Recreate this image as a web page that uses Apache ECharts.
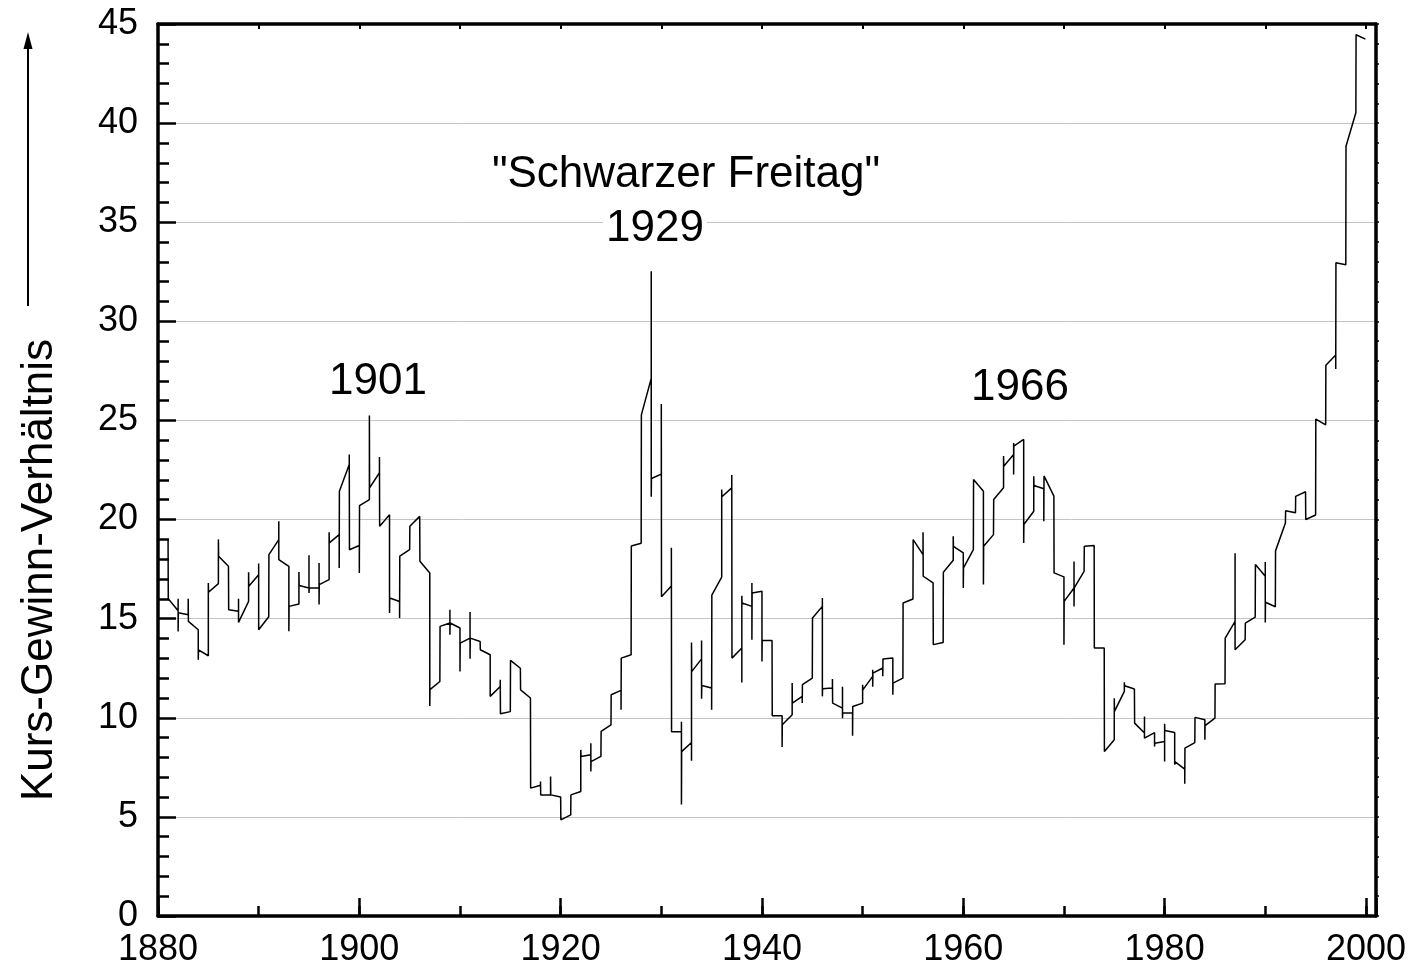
<!DOCTYPE html>
<html>
<head>
<meta charset="utf-8">
<script src="https://cdn.jsdelivr.net/npm/echarts@6/dist/echarts.min.js"></script>
<style>
  html, body { margin: 0; padding: 0; background: #fff; }
  #main { width: 1411px; height: 969px; }
</style>
</head>
<body>
<div id="main"></div>
<script>
const mainEl = document.getElementById("main");
let chart = echarts.init(mainEl);

// Kurs-Gewinn-Verhältnis (Jahr, Wert)
const years = [
  1881.0, 1881.02, 1882.0, 1882.0, 1882.0, 1882.02, 1883.0, 1883.0, 1883.02, 1884.0, 1884.0, 1884.02,
  1885.0, 1885.0, 1885.02, 1886.0, 1886.0, 1886.02, 1887.0, 1887.02, 1888.0, 1888.0, 1888.0, 1888.02,
  1889.0, 1889.0, 1889.02, 1890.0, 1890.0, 1890.0, 1890.02, 1891.0, 1891.02, 1892.0, 1892.0, 1892.0, 1892.02,
  1893.0, 1893.0, 1893.02, 1894.0, 1894.0, 1894.02, 1895.0, 1895.0, 1895.0, 1895.02, 1896.0, 1896.0, 1896.0, 1896.02,
  1897.0, 1897.0, 1897.02, 1898.0, 1898.0, 1898.02, 1899.0, 1899.0, 1899.02, 1900.0, 1900.0, 1900.02,
  1901.0, 1901.0, 1901.02, 1902.0, 1902.0, 1902.02, 1903.0, 1903.0, 1903.02, 1904.0, 1904.0, 1904.02,
  1905.0, 1905.02, 1906.0, 1906.02, 1907.0, 1907.0, 1907.02, 1908.0, 1908.02, 1909.0, 1909.0, 1909.0, 1909.02,
  1910.0, 1910.0, 1910.02, 1911.0, 1911.0, 1911.0, 1911.02, 1912.0, 1912.02, 1913.0, 1913.0, 1913.02,
  1914.0, 1914.0, 1914.02, 1915.0, 1915.02, 1916.0, 1916.02, 1917.0, 1917.02, 1918.0, 1918.0, 1918.02,
  1919.0, 1919.0, 1919.02, 1920.0, 1920.02, 1921.0, 1921.02, 1922.0, 1922.0, 1922.02, 1923.0, 1923.0, 1923.0, 1923.02,
  1924.0, 1924.02, 1925.0, 1925.02, 1926.0, 1926.0, 1926.02, 1927.0, 1927.02, 1928.0, 1928.02,
  1929.0, 1929.0, 1929.0, 1929.02, 1930.0, 1930.0, 1930.02, 1931.0, 1931.0, 1931.02, 1932.0, 1932.0, 1932.0, 1932.02,
  1933.0, 1933.0, 1933.0, 1933.02, 1934.0, 1934.0, 1934.0, 1934.02, 1935.0, 1935.0, 1935.02, 1936.0, 1936.0, 1936.02,
  1937.0, 1937.0, 1937.02, 1938.0, 1938.0, 1938.0, 1938.02, 1939.0, 1939.0, 1939.0, 1939.02, 1940.0, 1940.0, 1940.02,
  1941.0, 1941.02, 1942.0, 1942.0, 1942.02, 1943.0, 1943.0, 1943.02, 1944.0, 1944.0, 1944.02, 1945.0, 1945.02,
  1946.0, 1946.0, 1946.0, 1946.02, 1947.0, 1947.0, 1947.02, 1948.0, 1948.0, 1948.0, 1948.02, 1949.0, 1949.0, 1949.02,
  1950.0, 1950.0, 1950.02, 1951.0, 1951.0, 1951.0, 1951.02, 1952.0, 1952.0, 1952.02, 1953.0, 1953.0, 1953.02,
  1954.0, 1954.02, 1955.0, 1955.02, 1956.0, 1956.0, 1956.02, 1957.0, 1957.02, 1958.0, 1958.02, 1959.0, 1959.0, 1959.02,
  1960.0, 1960.0, 1960.02, 1961.0, 1961.02, 1962.0, 1962.0, 1962.02, 1963.0, 1963.02, 1964.0, 1964.0, 1964.02,
  1965.0, 1965.0, 1965.0, 1965.02, 1966.0, 1966.0, 1966.02, 1967.0, 1967.0, 1967.02, 1968.0, 1968.0, 1968.02,
  1969.0, 1969.02, 1970.0, 1970.0, 1970.02, 1971.0, 1971.0, 1971.0, 1971.02, 1972.0, 1972.02, 1973.0, 1973.02,
  1974.0, 1974.02, 1975.0, 1975.0, 1975.02, 1976.0, 1976.0, 1976.02, 1977.0, 1977.02, 1978.0, 1978.0, 1978.0, 1978.02,
  1979.0, 1979.0, 1979.02, 1980.0, 1980.0, 1980.0, 1980.02, 1981.0, 1981.0, 1981.02, 1982.0, 1982.0, 1982.02,
  1983.0, 1983.02, 1984.0, 1984.0, 1984.02, 1985.0, 1985.02, 1986.0, 1986.02, 1987.0, 1987.0, 1987.0, 1987.02,
  1988.0, 1988.02, 1989.0, 1989.02, 1990.0, 1990.0, 1990.0, 1990.02, 1991.0, 1991.02, 1992.0, 1992.02,
  1993.0, 1993.02, 1994.0, 1994.02, 1995.0, 1995.02, 1996.0, 1996.02, 1997.0, 1997.0, 1997.02,
  1998.0, 1998.02, 1999.0, 1999.02, 1999.95
];
const kgv = [
  19.0, 16.0, 15.4, 16.0, 14.35, 15.3, 15.2, 16.0, 14.86, 14.44, 12.93, 13.43,
  13.13, 16.8, 16.33, 16.77, 19.0, 18.15, 17.64, 15.45, 15.37, 16.0, 14.81, 14.9,
  15.87, 17.34, 16.63, 17.22, 17.78, 14.44, 14.47, 15.1, 18.23, 18.99, 19.92, 17.98, 18.0,
  17.64, 14.36, 15.62, 15.74, 17.35, 16.67, 16.55, 18.2, 16.3, 16.55, 16.55, 17.81, 15.71, 16.72,
  16.97, 19.36, 18.82, 19.24, 17.56, 21.43, 22.78, 23.28, 18.48, 18.69, 17.31, 20.7,
  21.01, 25.25, 21.6, 22.36, 23.16, 19.66, 20.24, 15.29, 16.04, 15.87, 15.03, 18.15,
  18.48, 19.66, 20.16, 17.9, 17.3, 10.6, 11.42, 11.83, 14.61, 14.78, 15.45, 14.19, 14.78,
  14.53, 12.34, 13.77, 14.02, 15.34, 12.98, 14.02, 13.85, 13.43, 13.18, 11.08, 11.16,
  11.58, 11.92, 10.2, 10.31, 12.9, 12.5, 11.41, 11.0, 6.45, 6.6, 6.78, 6.11,
  6.11, 7.04, 6.11, 6.0, 4.85, 5.1, 6.11, 6.28, 8.38, 8.05, 8.13, 8.72, 7.29, 7.79,
  8.05, 9.31, 9.64, 11.16, 11.38, 10.4, 13.01, 13.18, 18.67, 18.8, 25.28,
  27.12, 32.53, 21.15, 22.07, 22.29, 25.83, 16.1, 16.65, 18.58, 9.3, 9.3, 9.8, 5.63, 8.29,
  8.75, 7.83, 13.8, 12.33, 12.97, 13.9, 10.96, 11.63, 11.5, 10.4, 16.19, 17.1, 21.51, 21.15,
  21.6, 22.25, 13.01, 13.52, 11.78, 16.16, 15.79, 15.62, 16.8, 13.94, 16.3, 16.38, 12.84, 13.9,
  13.9, 10.1, 10.1, 8.52, 9.65, 10.15, 11.75, 10.74, 11.08, 10.74, 11.67, 12.0, 15.03,
  15.62, 16.04, 11.08, 11.46, 11.5, 11.95, 10.74, 10.49, 11.57, 9.98, 10.24, 10.24, 9.09, 10.57,
  10.74, 11.67, 11.41, 12.09, 12.42, 11.57, 12.25, 12.51, 12.09, 12.97, 13.01, 11.16, 11.75,
  12.0, 15.79, 15.99, 18.99, 18.23, 19.36, 17.14, 16.8, 13.69, 13.8, 17.34, 17.95, 19.16, 18.65,
  18.32, 16.55, 17.56, 18.48, 22.02, 21.43, 16.72, 18.65, 19.24, 21.01, 21.6, 23.2, 22.69,
  23.28, 23.86, 22.27, 23.7, 24.04, 18.82, 19.75, 20.42, 22.19, 21.72, 21.55, 19.92, 22.2,
  21.18, 17.31, 17.11, 13.69, 15.87, 16.55, 17.89, 15.62, 16.55, 17.39, 18.65, 18.69, 13.52,
  13.52, 8.3, 8.89, 10.99, 10.32, 11.33, 11.79, 11.62, 11.45, 9.73, 9.23, 10.07, 8.97, 9.05,
  9.25, 8.55, 8.72, 8.8, 7.79, 9.7, 9.36, 9.26, 7.63, 7.79, 7.41, 6.67, 8.47,
  8.75, 10.02, 9.9, 8.89, 9.6, 9.98, 11.7, 11.72, 14.02, 14.86, 18.3, 13.43, 13.43,
  13.94, 14.78, 15.08, 17.73, 17.14, 17.86, 14.81, 15.83, 15.6, 18.42, 19.82, 20.44,
  20.34, 21.17, 21.4, 20.0, 20.23, 25.07, 24.78, 27.78, 28.3, 27.6, 32.96,
  32.85, 38.83, 40.52, 44.46, 44.24
];

const yTicks = [0, 5, 10, 15, 20, 25, 30, 35, 40, 45];
const xTicks = [1880, 1900, 1920, 1940, 1960, 1980, 2000];

const notes = [
  { text: '1901', x: 378, y: 382 },
  { text: '"Schwarzer Freitag"', x: 686, y: 175 },
  { text: '1929', x: 655, y: 229 },
  { text: '1966', x: 1020, y: 388 }
];

const FONT = '"Liberation Sans", Arial, sans-serif';
const black = '#000';

const option = {
  animation: false,
  backgroundColor: '#fff',
  grid: { left: 158, right: 35, top: 24, bottom: 53, outerBoundsMode: 'none' },
  xAxis: [
    {
      type: 'value', position: 'bottom', min: 1880, max: 2001, interval: 20,
      axisLine: { show: true, onZero: false, lineStyle: { color: black, width: 3.5 } },
      axisTick: { show: true, inside: true, length: 18, lineStyle: { color: black, width: 2.5 } },
      axisLabel: {
        color: black, fontSize: 36, fontFamily: FONT, margin: 16,
        formatter: v => (xTicks.includes(v) ? String(v) : '')
      },
      splitLine: { show: false }
    },
    {
      type: 'value', position: 'top', min: 1880, max: 2001, interval: 10,
      axisLine: { show: true, onZero: false, lineStyle: { color: black, width: 3.5 } },
      axisTick: { show: true, inside: true, length: 5, lineStyle: { color: black, width: 2 } },
      axisLabel: { show: false },
      splitLine: { show: false }
    },
    {
      type: 'value', position: 'bottom', min: 1880, max: 2001, interval: 10,
      axisLine: { show: false, onZero: false },
      axisTick: { show: true, inside: true, length: 10, lineStyle: { color: black, width: 2.5 } },
      axisLabel: { show: false },
      splitLine: { show: false }
    }
  ],
  yAxis: [
    {
      type: 'value', position: 'left', min: 0, max: 45, interval: 5,
      axisLine: { show: true, onZero: false, lineStyle: { color: black, width: 3.5 } },
      axisTick: { show: true, inside: true, length: 18, lineStyle: { color: black, width: 2.5 } },
      minorTick: { show: true, splitNumber: 5, length: 11, lineStyle: { color: black, width: 2.5 } },
      axisLabel: {
        color: black, fontSize: 36, fontFamily: FONT, margin: 20,
        formatter: v => (yTicks.includes(v) ? String(v) : '')
      },
      splitLine: { show: true, lineStyle: { color: '#c4c4c4', width: 1 } }
    },
    {
      type: 'value', position: 'right', min: 0, max: 45, interval: 1,
      axisLine: { show: true, onZero: false, lineStyle: { color: black, width: 3.5 } },
      axisTick: { show: true, inside: false, length: 3, lineStyle: { color: black, width: 1.5 } },
      axisLabel: { show: false },
      splitLine: { show: false }
    }
  ],
  series: [
    {
      type: 'line',
      xAxisIndex: 0,
      yAxisIndex: 0,
      data: years.map((y, i) => [y, kgv[i]]),
      showSymbol: false,
      symbol: 'none',
      smooth: false,
      lineStyle: { color: black, width: 1.5 },
      z: 5
    }
  ],
  graphic: [
    {
      type: 'text', x: 40, y: 570, rotation: Math.PI / 2,
      style: {
        text: 'Kurs-Gewinn-Verhältnis', fill: black,
        font: '44px ' + FONT, textAlign: 'center', textVerticalAlign: 'middle'
      }
    },
    {
      type: 'line',
      shape: { x1: 28, y1: 306, x2: 28, y2: 46 },
      style: { stroke: black, lineWidth: 2 }
    },
    {
      type: 'polygon',
      shape: { points: [[28, 32], [23.5, 49], [32.5, 49]] },
      style: { fill: black }
    }
  ].concat(notes.map(n => ({
    type: 'text', x: n.x, y: n.y, z: 10,
    style: {
      text: n.text, fill: black, font: '44px ' + FONT,
      textAlign: 'center', textVerticalAlign: 'middle',
      backgroundColor: '#fff', padding: [0, 3]
    }
  })))
};

chart.setOption(option);
</script>
</body>
</html>
